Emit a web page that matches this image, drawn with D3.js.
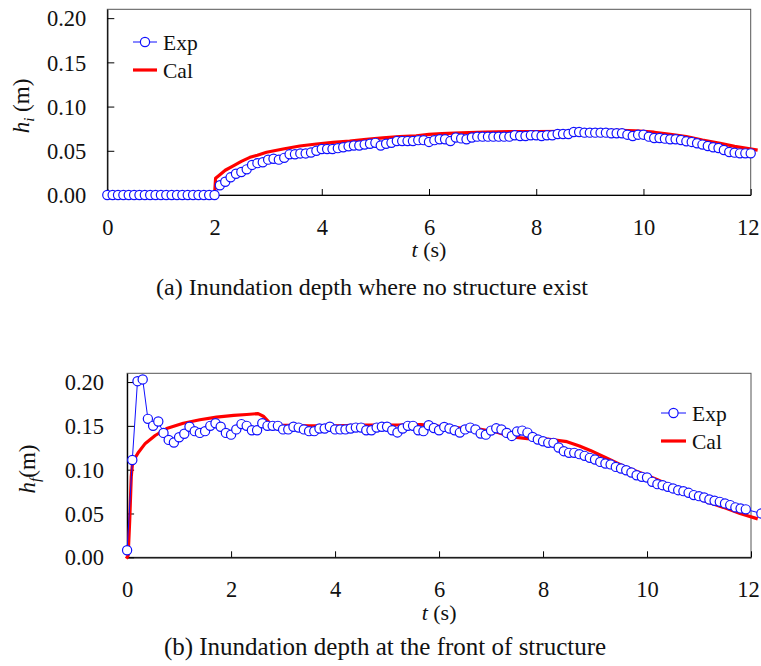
<!DOCTYPE html>
<html>
<head>
<meta charset="utf-8">
<script src="https://cdn.jsdelivr.net/npm/d3@7"></script>
<style>
  html, body { margin: 0; padding: 0; background: #fff; }
  svg text { font-family: "Liberation Serif", "Times New Roman", serif; fill: #111; }
</style>
</head>
<body>
<svg id="chart" width="761" height="666"></svg>
<script>
// ---- Panel (a): inundation depth where no structure exists ----
const expA_t0 = 0, expA_dt = 0.1;
const expA = [
  0,0,0,0,0,0,0,0,0,0,0,0,0,0,0,0,0,0,0,0,0,
  0.011,0.015,0.020,0.024,0.026,0.029,0.034,0.036,0.037,0.040,
  0.041,0.040,0.042,0.046,0.046,0.047,0.047,0.048,0.050,0.052,
  0.052,0.052,0.053,0.054,0.055,0.056,0.056,0.057,0.058,0.059,
  0.056,0.058,0.059,0.061,0.061,0.061,0.061,0.062,0.062,0.060,
  0.062,0.063,0.063,0.061,0.065,0.064,0.063,0.065,0.066,0.066,
  0.066,0.066,0.066,0.066,0.066,0.0675,0.0667,0.0667,0.0675,0.0675,
  0.0667,0.0675,0.0675,0.069,0.069,0.069,0.0713,0.0713,0.0705,0.0705,
  0.0705,0.0705,0.0705,0.0698,0.0698,0.0698,0.0682,0.0667,0.0682,0.0682,
  0.066,0.0645,0.0645,0.0637,0.063,0.063,0.0622,0.0607,0.060,0.0585,
  0.057,0.0554,0.054,0.0532,0.0509,0.0486,0.0479,0.0471,0.0471,0.0471
];
const calA_t = [2.0, 2.02, 2.1, 2.2, 2.35, 2.5, 2.66, 2.8, 2.97, 3.28, 3.59, 3.9, 4.21, 4.52, 4.83,
  5.14, 5.45, 5.76, 6.0, 6.24, 6.6, 7.05, 7.5, 8.0, 8.6, 9.0, 9.55, 9.86, 10.2, 10.5, 10.8, 11.1, 11.43, 11.7, 12.1];
const calA = [0, 0.019, 0.023, 0.028, 0.033, 0.038, 0.0426, 0.045, 0.0483, 0.052, 0.0554, 0.0577, 0.0596, 0.061, 0.063,
  0.0645, 0.066, 0.067, 0.0686, 0.0695, 0.0702, 0.0712, 0.0716, 0.0716, 0.072, 0.0725, 0.073, 0.0725, 0.071, 0.0685, 0.066, 0.062, 0.0585, 0.055, 0.051];

// ---- Panel (b): inundation depth at the front of structure ----
const expB_t0 = 0, expB_dt = 0.1;
const expB = [
  0.008,0.111,0.201,0.203,0.158,0.150,0.155,0.142,0.134,0.131,
  0.137,0.141,0.149,0.144,0.142,0.144,0.150,0.153,0.149,0.142,
  0.140,0.146,0.152,0.150,0.145,0.145,0.153,0.150,0.150,0.150,
  0.146,0.146,0.149,0.148,0.146,0.144,0.144,0.147,0.147,0.149,
  0.146,0.146,0.146,0.147,0.148,0.148,0.145,0.145,0.148,0.149,
  0.149,0.145,0.1425,0.147,0.150,0.150,0.145,0.144,0.1507,0.1476,
  0.145,0.1488,0.147,0.145,0.1423,0.146,0.148,0.146,0.1412,0.140,
  0.1446,0.1472,0.146,0.142,0.1385,0.1435,0.1446,0.1423,0.1374,0.1344,
  0.1325,0.1306,0.1306,0.1253,0.1211,0.1192,0.1192,0.1177,0.1158,0.1135,
  0.1116,0.1089,0.107,0.106,0.1032,0.1013,0.0994,0.0968,0.0937,0.0918,
  0.0911,0.0861,0.0835,0.0823,0.0804,0.0786,0.0766,0.0755,0.0736,0.071,
  0.0698,0.0683,0.066,0.0645,0.0633,0.0615,0.0596,0.057,0.0558,0.0547
];
const expB_tail_t = [12.2];
const expB_tail = [0.050];
const calB_t = [0, 0.02, 0.05, 0.08, 0.1, 0.15, 0.22, 0.35, 0.54, 0.76, 1.08, 1.4, 1.72, 2.05, 2.3, 2.52, 2.62, 2.75,
  2.94, 3.5, 4.0, 4.6, 5.2, 5.65, 6.3, 6.8, 7.1, 7.4, 7.7, 8.0, 8.2, 8.46, 8.7, 8.91, 9.23, 9.55, 9.87, 10.19, 10.51,
  10.83, 11.15, 11.47, 11.79, 12.1];
const calB = [0, 0.002, 0.042, 0.092, 0.105, 0.113, 0.120, 0.130, 0.139, 0.147, 0.153, 0.157, 0.160, 0.162, 0.163, 0.164, 0.161, 0.153,
  0.151, 0.150, 0.150, 0.151, 0.151, 0.1515, 0.148, 0.146, 0.143, 0.1375, 0.1355, 0.1355, 0.134, 0.132, 0.127, 0.122, 0.113, 0.104, 0.0964, 0.0888, 0.0804,
  0.071, 0.0633, 0.057, 0.050, 0.0444];

const xTicks = [0, 2, 4, 6, 8, 10, 12];
const yTicks = [0, 0.05, 0.10, 0.15, 0.20];
const seriesNames = ["Exp", "Cal"];
const captions = ["(a) Inundation depth where no structure exist", "(b) Inundation depth at the front of structure"];

const BLUE = "#1010ff", RED = "#ff0000";
const FONT = '"Liberation Serif", "Times New Roman", serif';
const svg = d3.select("#chart");

function seq(vals, t0, dt) { return vals.map((v, i) => [t0 + i * dt, v]); }
function pairs(ts, vs) { return ts.map((t, i) => [t, vs[i]]); }

function panel(cfg) {
  const x = d3.scaleLinear().domain([0, 12]).range([cfg.left, cfg.right]);
  const y = d3.scaleLinear().domain([0, 0.21]).range([cfg.bottom, cfg.top]);
  const g = svg.append("g");

  // frame
  g.append("rect").attr("x", cfg.left).attr("y", cfg.top)
    .attr("width", cfg.right - cfg.left).attr("height", cfg.bottom - cfg.top)
    .attr("fill", "none").attr("stroke", "#555").attr("stroke-width", 1);

  // axes with inward ticks
  const xa = g.append("g").attr("transform", `translate(0,${cfg.bottom})`)
    .call(d3.axisBottom(x).tickValues(xTicks).tickFormat(d3.format("d"))
      .tickSizeInner(-6).tickSizeOuter(0));
  const ya = g.append("g").attr("transform", `translate(${cfg.left},0)`)
    .call(d3.axisLeft(y).tickValues(yTicks).tickFormat(d3.format(".2f"))
      .tickSizeInner(-7).tickSizeOuter(0).tickPadding(cfg.yPad));
  [xa, ya].forEach(a => {
    a.attr("font-family", null).attr("font-size", null);
    a.select(".domain").attr("stroke", "#000").attr("stroke-width", 1.2);
    a.selectAll(".tick line").attr("stroke", "#000").attr("stroke-width", 1);
    a.selectAll(".tick text").attr("font-size", 22.5)
      .style("font-family", FONT).attr("fill", "#111");
  });
  xa.selectAll(".tick text").attr("dy", "0.35em").attr("y", cfg.xLabelDy)
    .attr("dx", d => d === 12 ? -3 : 0);
  ya.selectAll(".tick text").attr("dy", "0.34em");

  // Cal line
  const line = d3.line().x(d => x(d[0])).y(d => y(d[1]));
  g.append("path").datum(cfg.cal).attr("d", line)
    .attr("fill", "none").attr("stroke", RED).attr("stroke-width", 3.2)
    .attr("stroke-linejoin", "round").attr("stroke-linecap", "square");

  // Exp line + markers
  g.append("path").datum(cfg.exp).attr("d", line)
    .attr("fill", "none").attr("stroke", BLUE).attr("stroke-width", 1);
  g.selectAll("circle.exp").data(cfg.exp).join("circle").attr("class", "exp")
    .attr("cx", d => x(d[0])).attr("cy", d => y(d[1])).attr("r", 4.6)
    .attr("fill", "#fff").attr("stroke", BLUE).attr("stroke-width", 1.2);

  // legend
  const L = cfg.legend;
  g.append("line").attr("x1", L.x).attr("x2", L.x + L.w).attr("y1", L.y).attr("y2", L.y)
    .attr("stroke", BLUE).attr("stroke-width", 1);
  g.append("circle").attr("cx", L.x + L.w / 2).attr("cy", L.y).attr("r", 4.6)
    .attr("fill", "#fff").attr("stroke", BLUE).attr("stroke-width", 1.2);
  g.append("line").attr("x1", L.x).attr("x2", L.x + L.w).attr("y1", L.y + L.gap).attr("y2", L.y + L.gap)
    .attr("stroke", RED).attr("stroke-width", 3.2);
  seriesNames.forEach((n, i) => {
    g.append("text").attr("x", L.x + L.w + 6).attr("y", L.y + i * L.gap).attr("dy", "0.35em")
      .attr("font-size", 21.5).text(n);
  });

  // axis titles
  const cx = (cfg.left + cfg.right) / 2;
  const xt = g.append("text").attr("x", cx).attr("y", cfg.xTitleY).attr("text-anchor", "middle").attr("font-size", 22);
  xt.append("tspan").attr("font-style", "italic").text("t");
  xt.append("tspan").text(" (s)");

  const yt = g.append("text").attr("transform", `translate(${cfg.yTitleX},${cfg.yTitleY}) rotate(-90)`)
    .attr("text-anchor", "middle").attr("font-size", 23);
  yt.append("tspan").attr("font-style", "italic").text("h");
  yt.append("tspan").attr("font-style", "italic").attr("font-size", 15).attr("dy", 5).text(cfg.sub);
  yt.append("tspan").attr("dy", -5).text(cfg.unit);

  // caption
  g.append("text").attr("x", cfg.capX).attr("y", cfg.capY).attr("text-anchor", "middle")
    .attr("font-size", cfg.capSize).text(cfg.caption);
}

panel({
  left: 107.3, right: 750.7, top: 9.3, bottom: 195,
  exp: seq(expA, expA_t0, expA_dt),
  cal: pairs(calA_t, calA),
  legend: { x: 133, w: 24, y: 42, gap: 28 },
  yPad: 21, xLabelDy: 32, xTitleY: 257, yTitleX: 29, yTitleY: 106,
  sub: "i", unit: " (m)",
  capX: 372, capY: 295, capSize: 24, caption: captions[0]
});

panel({
  left: 127.1, right: 751, top: 373.3, bottom: 557.3,
  exp: seq(expB, expB_t0, expB_dt).concat(pairs(expB_tail_t, expB_tail)),
  cal: pairs(calB_t, calB),
  legend: { x: 661, w: 25, y: 413, gap: 28 },
  yPad: 23, xLabelDy: 32, xTitleY: 620, yTitleX: 35, yTitleY: 469,
  sub: "f", unit: "(m)",
  capX: 385, capY: 655, capSize: 25, caption: captions[1]
});
</script>
</body>
</html>
